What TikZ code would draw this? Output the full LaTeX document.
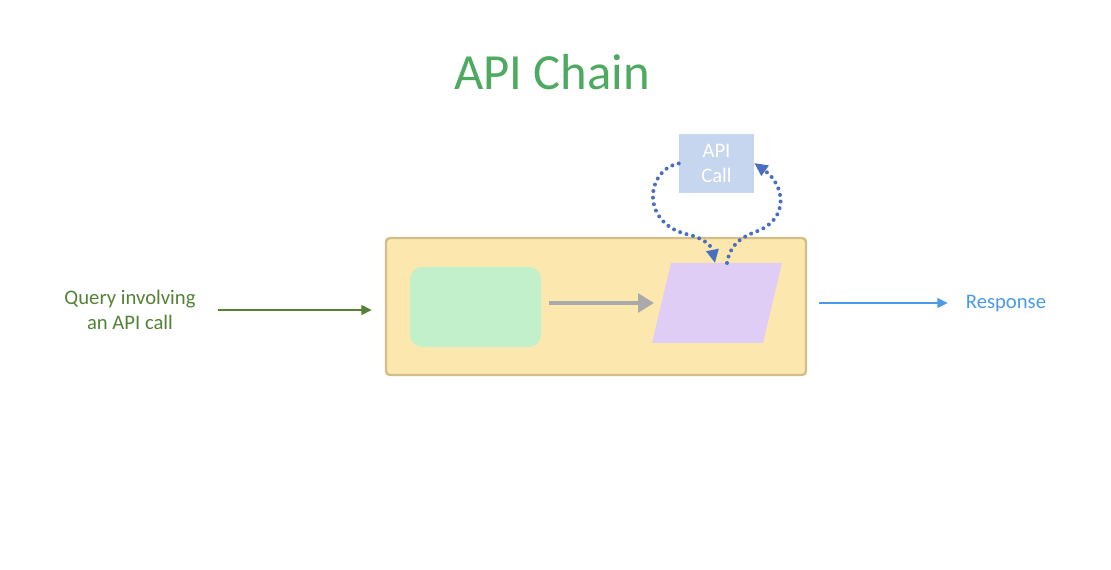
\documentclass[tikz,border=0pt]{standalone}
\usepackage{fontspec}
\setmainfont{Carlito}
\usetikzlibrary{arrows.meta}
\definecolor{titlegreen}{HTML}{4DAA60}
\definecolor{olive}{HTML}{548235}
\definecolor{outerfill}{HTML}{FCE8AE}
\definecolor{outerline}{HTML}{D2BE88}
\definecolor{mint}{HTML}{C1F0CB}
\definecolor{lilac}{HTML}{E0CDF6}
\definecolor{apibox}{HTML}{C5D6EE}
\definecolor{dotblue}{HTML}{4A6FC0}
\definecolor{respblue}{HTML}{4A9AE8}
\definecolor{arrgray}{HTML}{AAAAAA}
\tikzset{
  lbl/.style={font=\fontsize{15.5pt}{19pt}\selectfont, align=center, inner sep=0pt},
  dotconn/.style={draw=dotblue, line width=3pt, dash pattern=on 0pt off 5pt, line cap=round, -{Triangle[length=10pt,width=9pt,fill=dotblue,line cap=butt]}},
}
\begin{document}
\begin{tikzpicture}[x=0.75pt,y=-0.75pt]
\useasboundingbox (0,0) rectangle (1111,570);
\node[text=titlegreen, font=\fontsize{38pt}{44pt}\selectfont, inner sep=0pt] (title) at (552,72) {API Chain};
% outer box
\node[draw=outerline, line width=1.8pt, fill=outerfill, rounded corners=3pt, minimum width=420*0.75pt, minimum height=137*0.75pt, inner sep=0pt] (outer) at (596,306.5) {};
% green box
\node[fill=mint, rounded corners=9pt, minimum width=131*0.75pt, minimum height=80*0.75pt, inner sep=0pt] (llm) at (475.5,307) {};
% parallelogram
\coordinate (ptl) at (671,263);
\coordinate (ptr) at (782,263);
\coordinate (pbr) at (763,343);
\coordinate (pbl) at (652,343);
\fill[lilac] (ptl) -- (ptr) -- (pbr) -- (pbl) -- cycle;
\coordinate (pin) at (715,263);
\coordinate (pout) at (727,263);
\coordinate (pleft) at (654,303);
\coordinate (gstart) at (549,303);
% API call box
\node[fill=apibox, minimum width=75*0.75pt, minimum height=59*0.75pt, inner sep=0pt, text=white, lbl] (api) at (716.5,163.5) {API\\Call};
% gray arrow
\draw[arrgray, line width=3.5pt, -{Triangle[length=12pt,width=14pt]}] (gstart) -- (pleft);
% dotted loops
\draw[dotconn] (api.west) .. controls (645,170) and (640,225) .. (690,235) .. controls (708,240) and (712,248) .. (pin);
\draw[dotconn] (pout) .. controls (730,245) and (740,238) .. (755,232) .. controls (790,220) and (785,185) .. (api.east |- 0,163);
% left text and arrow
\coordinate (qend) at (372,310);
\node[lbl, text=olive] (query) at (130,310) {Query involving\\an API call};
\draw[olive, line width=2.2pt, -{Triangle[length=8pt,width=7pt]}] (218,310) -- (qend);
% response
\coordinate (rstart) at (819,303);
\coordinate (rend) at (948,303);
\node[lbl, text=respblue] (resp) at (1006,304) {Response};
\draw[respblue, line width=2.2pt, -{Triangle[length=8pt,width=7pt]}] (rstart) -- (rend);
\end{tikzpicture}
\end{document}
